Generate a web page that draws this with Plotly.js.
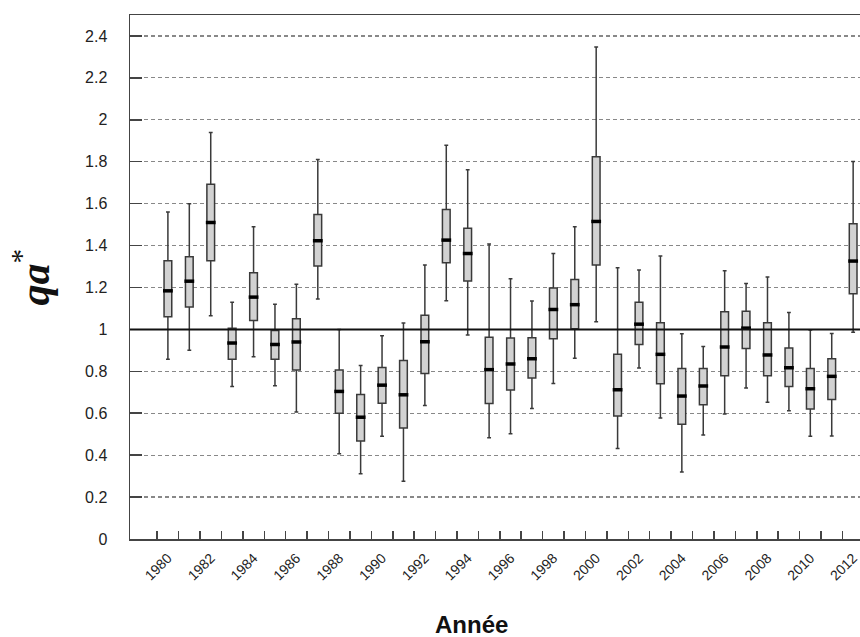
<!DOCTYPE html>
<html>
<head>
<meta charset="utf-8">
<script src="https://cdn.plot.ly/plotly-3.0.1.min.js"></script>
<style>html,body{margin:0;padding:0;background:#fff;}#chart{width:860px;height:637px;}</style>
</head>
<body>
<div id="chart"></div>
<script>
const years = [1980,1981,1982,1983,1984,1985,1986,1987,1988,1989,1990,1991,1992,1993,1994,1995,1996,1997,1998,1999,2000,2001,2002,2003,2004,2005,2006,2007,2008,2009,2010,2011,2012];
const upperWhisker = [1.56,1.60,1.94,1.13,1.49,1.12,1.215,1.81,1.00,0.828,0.97,1.03,1.307,1.878,1.762,1.407,1.242,1.135,1.362,1.49,2.347,1.294,1.283,1.35,0.979,0.919,1.28,1.219,1.25,1.081,0.997,0.981,1.801];
const q3 = [1.328,1.347,1.692,1.006,1.27,0.995,1.051,1.548,0.806,0.689,0.818,0.852,1.068,1.572,1.483,0.962,0.959,0.96,1.197,1.238,1.824,0.882,1.13,1.032,0.814,0.814,1.084,1.086,1.032,0.911,0.814,0.86,1.504];
const medians = [1.184,1.23,1.51,0.935,1.154,0.928,0.94,1.423,0.704,0.581,0.734,0.688,0.941,1.426,1.362,0.808,0.835,0.86,1.095,1.118,1.515,0.712,1.025,0.881,0.682,0.73,0.916,1.006,0.878,0.817,0.717,0.776,1.326];
const q1 = [1.06,1.107,1.328,0.858,1.043,0.858,0.806,1.302,0.60,0.468,0.648,0.53,0.79,1.318,1.231,0.647,0.711,0.768,0.955,1.003,1.307,0.587,0.928,0.741,0.547,0.641,0.779,0.909,0.779,0.727,0.62,0.665,1.17];
const lowerWhisker = [0.858,0.90,1.065,0.728,0.87,0.731,0.606,1.145,0.407,0.311,0.49,0.275,0.637,1.137,0.973,0.483,0.502,0.623,0.742,0.862,1.037,0.432,0.816,0.577,0.32,0.496,0.596,0.72,0.652,0.612,0.49,0.491,0.986];
const labelYears = years.filter(y => y % 2 === 0);
const yTicks = [0,0.2,0.4,0.6,0.8,1,1.2,1.4,1.6,1.8,2,2.2,2.4];
const boundaries = years.map(y => y - 0.5);

const traces = [
  {
    type: 'box',
    x: years,
    q1: q1, median: medians, q3: q3,
    lowerfence: lowerWhisker, upperfence: upperWhisker,
    width: 0.36,
    whiskerwidth: 0.5,
    fillcolor: '#d2d2d2',
    line: {color: '#3a3a3a', width: 1.5},
    boxpoints: false,
    hoverinfo: 'skip'
  },
  {
    type: 'scatter',
    mode: 'markers',
    x: years,
    y: medians,
    marker: {symbol: 'line-ew', size: 7, line: {color: '#000', width: 3.5}},
    hoverinfo: 'skip'
  }
];

const layout = {
  width: 860, height: 637,
  margin: {l: 130, r: 0, t: 15, b: 98},
  paper_bgcolor: '#fff', plot_bgcolor: '#fff',
  showlegend: false,
  font: {family: 'Liberation Sans, Arial, sans-serif', color: '#222'},
  xaxis: {
    type: 'linear',
    range: [1978.23, 2012.32],
    tickmode: 'array',
    tickvals: labelYears,
    ticktext: labelYears.map(String),
    ticks: '',
    tickangle: -45,
    ticklabelstandoff: 4,
    ticklabeloverflow: 'allow',
    tickfont: {size: 14, color: '#222'},
    showgrid: false,
    zeroline: false,
    showline: true, mirror: true,
    linecolor: '#444', linewidth: 1.5,
    minor: {tickmode: 'array', tickvals: boundaries, ticks: 'inside', ticklen: 8, tickwidth: 1.5, tickcolor: '#444', showgrid: false}
  },
  yaxis: {
    range: [0, 2.5],
    tickmode: 'array',
    tickvals: yTicks,
    ticktext: yTicks.map(String),
    ticks: 'inside', ticklen: 12, tickwidth: 1.5, tickcolor: '#444',
    ticklabelstandoff: 18,
    tickfont: {size: 16, color: '#222'},
    showgrid: true, gridcolor: '#888', gridwidth: 1.2, griddash: '4px,3px',
    zeroline: false,
    showline: true, linecolor: '#444', linewidth: 1.5
  },
  shapes: [
    {type: 'line', xref: 'paper', x0: 0, x1: 1, yref: 'y', y0: 1, y1: 1, line: {color: '#111', width: 2}}
  ],
  annotations: [
    {text: '<b>Année</b>', xref: 'paper', yref: 'paper', x: 0.468, y: -0.163, showarrow: false,
     xanchor: 'center', yanchor: 'middle', font: {size: 24, color: '#111', family: 'Liberation Sans, Arial, sans-serif'}},
    {text: '<b><i>qa</i></b><sup>*</sup>', xref: 'paper', yref: 'paper', x: -0.135, y: 0.5, showarrow: false,
     textangle: -90, xanchor: 'center', yanchor: 'middle', font: {size: 42, color: '#111', family: 'Liberation Serif, Times New Roman, serif'}}
  ]
};

Plotly.newPlot('chart', traces, layout, {displayModeBar: false, staticPlot: true});
</script>
</body>
</html>
